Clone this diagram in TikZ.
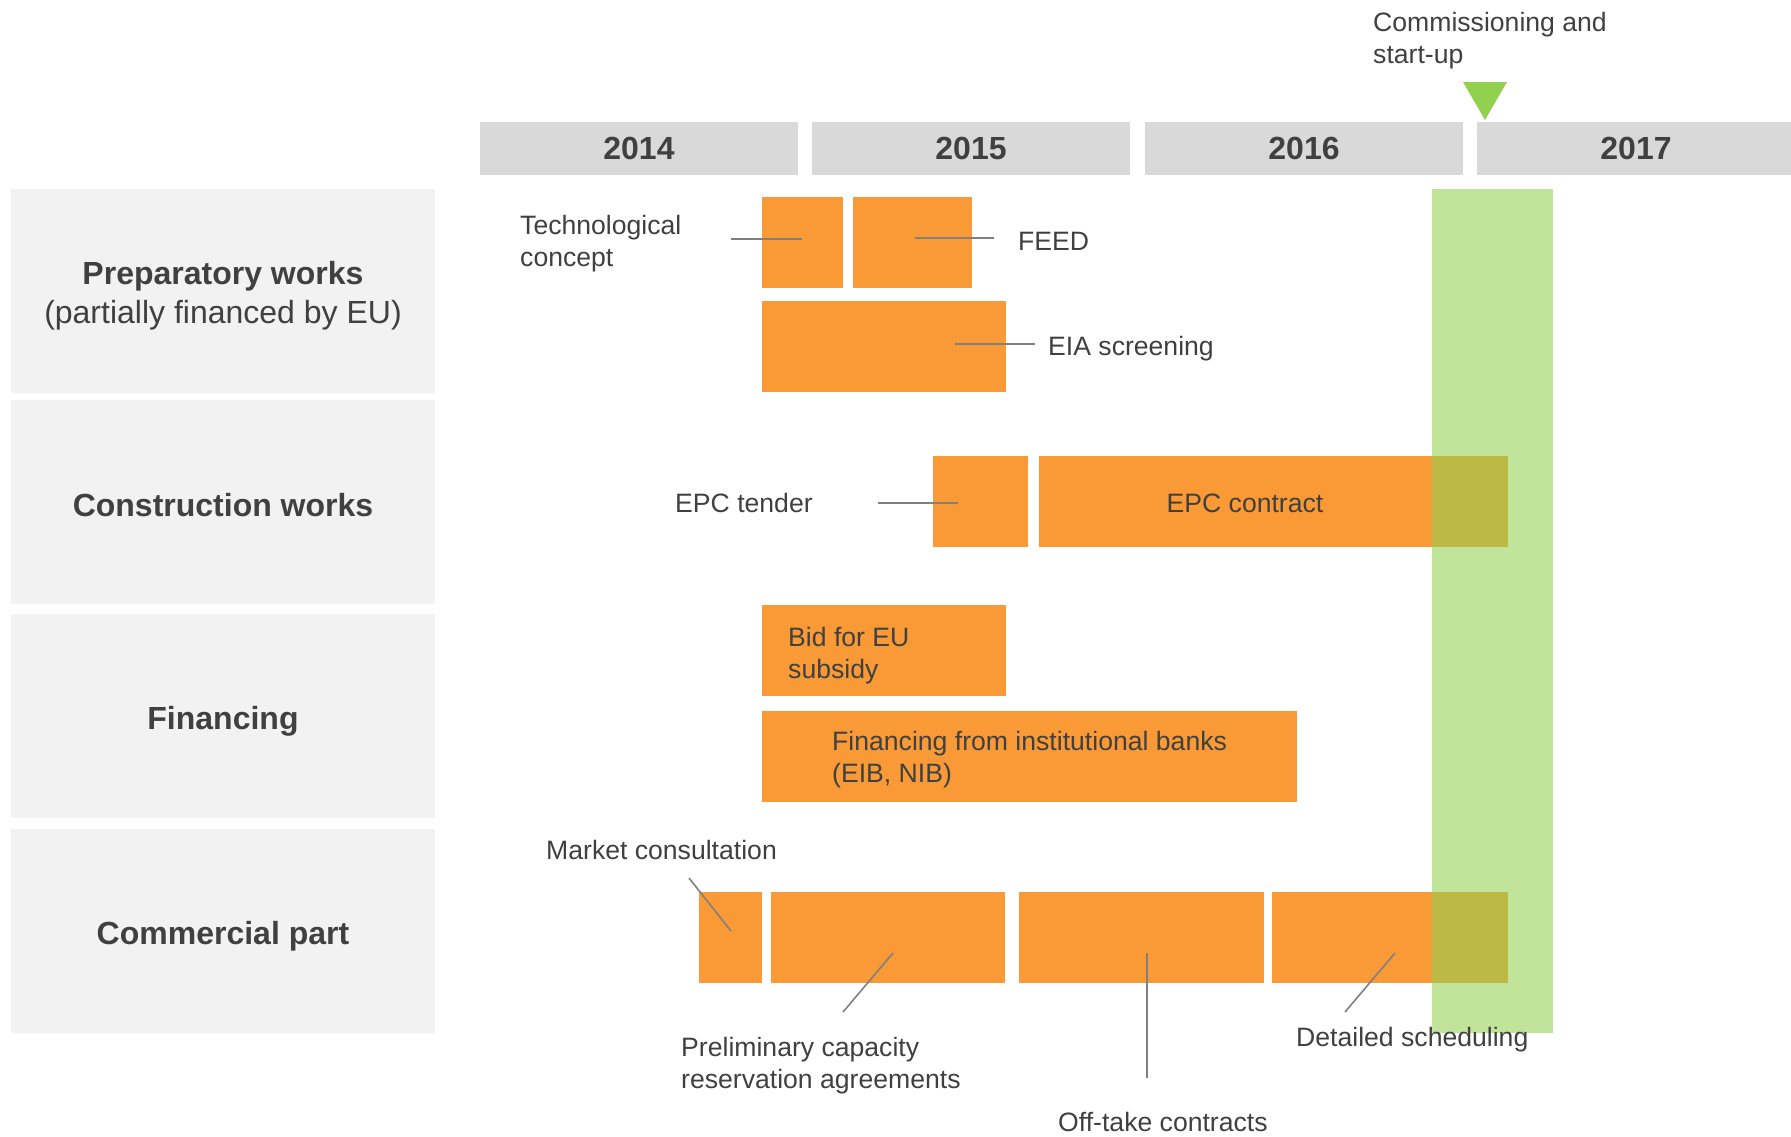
\documentclass[tikz,border=0pt]{standalone}
\usepackage{fontspec}
\setmainfont{Liberation Sans}
\usetikzlibrary{positioning}

\definecolor{barorange}{HTML}{FA9A36}
\definecolor{yeargray}{HTML}{D9D9D9}
\definecolor{rowgray}{HTML}{F2F2F2}
\definecolor{textgray}{HTML}{404040}
\definecolor{linegray}{HTML}{808080}
\definecolor{startgreen}{HTML}{92D050}

\begin{document}
\begin{tikzpicture}[x=1pt,y=-1pt]
  \tikzset{yearbar/.style = {fill=yeargray,minimum width=318pt,minimum height=53pt,inner sep=0pt,text=textgray,font=\fontsize{32}{38}\selectfont\bfseries}}
  \tikzset{rowbox/.style = {fill=rowgray,minimum width=424pt,minimum height=204pt,inner sep=0pt}}
  \tikzset{rowtxt/.style = {inner sep=0pt,text=textgray,align=center,font=\fontsize{32}{39}\selectfont}}
  \tikzset{task/.style = {fill=barorange,anchor=north west,inner sep=0pt}}
  \tikzset{note/.style = {inner sep=0pt,text=textgray,align=left,font=\fontsize{26.6}{32}\selectfont}}
  \tikzset{leader/.style = {draw=linegray,line width=1.6pt}}

  \useasboundingbox (0,0) rectangle (1791,1136);

  % years
  \foreach \yr/\xc in {2014/639, 2015/971, 2016/1304, 2017/1636}
    \node[yearbar] (y\yr) at (\xc,148.5) {\yr};

  % rows
	\node[rowbox] (prep) at (223,291) {};
	\node[rowbox] (constr) at (223,501.5) {};
	\node[rowbox] (finrow) at (223,716) {};
	\node[rowbox] (comm) at (223,931) {};
	\node[rowtxt] (preptxt) at (223,296) {{\bfseries Preparatory works}\\(partially financed by EU)};
	\node[rowtxt,anchor=base] (constrtxt) at (223,516) {\bfseries Construction works};
	\node[rowtxt,anchor=base] (finrowtxt) at (223,729) {\bfseries Financing};
	\node[rowtxt,anchor=base] (commtxt) at (223,944) {\bfseries Commercial part};

  % tasks
	\node[task,minimum width=81pt,minimum height=91pt] (tech) at (762,197) {};
	\node[task,minimum width=119pt,minimum height=91pt] (feed) at (853,197) {};
	\node[task,minimum width=244pt,minimum height=91pt] (eia) at (762,301) {};
	\node[task,minimum width=95pt,minimum height=91pt] (epct) at (933,456) {};
	\node[task,minimum width=469pt,minimum height=91pt] (epcc) at (1039,456) {};
	\node[task,minimum width=244pt,minimum height=91pt] (bid) at (762,605) {};
	\node[task,minimum width=535pt,minimum height=91pt] (fin) at (762,711) {};
	\node[task,minimum width=63pt,minimum height=91pt] (market) at (699,892) {};
	\node[task,minimum width=234pt,minimum height=91pt] (prelim) at (771,892) {};
	\node[task,minimum width=245pt,minimum height=91pt] (offtake) at (1019,892) {};
	\node[task,minimum width=236pt,minimum height=91pt] (sched) at (1272,892) {};

  % commissioning
  \fill[startgreen,opacity=0.58] (1432,189) rectangle (1553,1033);
  \fill[startgreen] (1463,82) -- (1507,82) -- (1485,120) -- cycle;

  % texts
	\node[note,anchor=west] (starttxt) at (1373,41) {Commissioning and\\start-up};
	\node[note,anchor=west] (techtxt) at (520,244) {Technological\\concept};
	\node[note,anchor=base west] (feedtxt) at (1018,250) {FEED};
	\node[note,anchor=base west] (eiatxt) at (1048,355) {EIA screening};
	\node[note,anchor=base west] (epcttxt) at (675,512) {EPC tender};
	\node[note,anchor=base] (epcctxt) at (1245,512) {EPC contract};
	\node[note,anchor=west] (bidtxt) at (788,656) {Bid for EU\\subsidy};
	\node[note,anchor=west] (fintxt) at (832,760) {Financing from institutional banks\\(EIB, NIB)};
	\node[note,anchor=base west] (markettxt) at (546,859) {Market consultation};
	\node[note,anchor=west] (prelimtxt) at (681,1066) {Preliminary capacity\\reservation agreements};
	\node[note,anchor=base west] (offtaketxt) at (1058,1131) {Off-take contracts};
	\node[note,anchor=base west] (schedtxt) at (1296,1046) {Detailed scheduling};

  % leader lines
  \coordinate (techA) at (731,239);    \coordinate (techB) at (802,239);
  \coordinate (feedA) at (994,238);    \coordinate (feedB) at (915,238);
  \coordinate (eiaA) at (1035,344);    \coordinate (eiaB) at (955,344);
  \coordinate (epctA) at (878,503);    \coordinate (epctB) at (958,503);
  \coordinate (marketA) at (689,878);  \coordinate (marketB) at (731,931);
  \coordinate (prelimA) at (843,1012); \coordinate (prelimB) at (893,953);
  \coordinate (offtakeA) at (1147,1078); \coordinate (offtakeB) at (1147,953);
  \coordinate (schedA) at (1345,1012); \coordinate (schedB) at (1395,953);

       \foreach \from/\to in {techA/techB, feedA/feedB, eiaA/eiaB, epctA/epctB, marketA/marketB, prelimA/prelimB, offtakeA/offtakeB, schedA/schedB}
    \draw[leader] (\from) -- (\to);

\end{tikzpicture}
\end{document}
